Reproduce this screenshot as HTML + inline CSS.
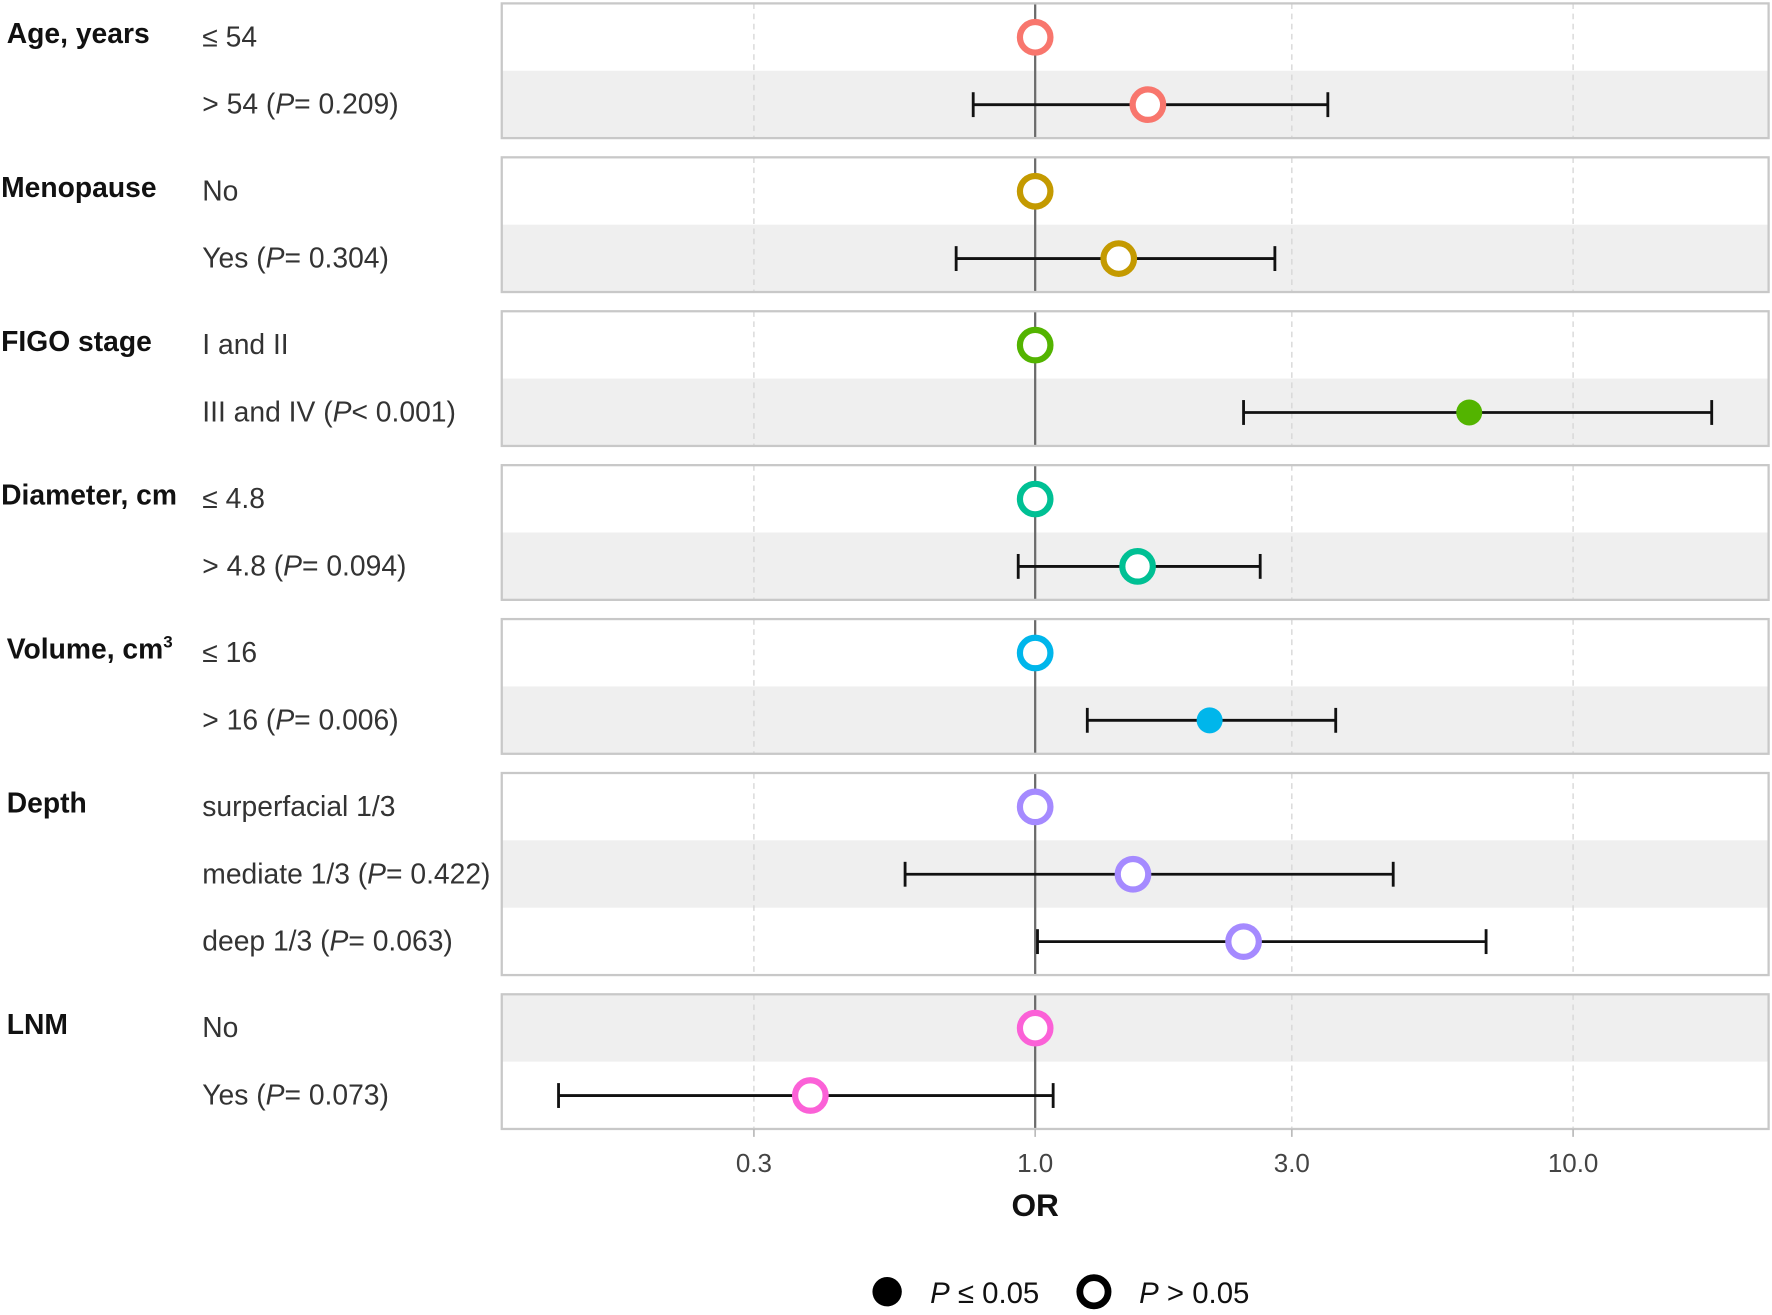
<!DOCTYPE html>
<html><head><meta charset="utf-8"><style>
html,body{margin:0;padding:0;background:#fff;}
svg{display:block;font-family:"Liberation Sans",Arial,sans-serif;}
</style></head><body>
<svg id="chart" width="1772" height="1315" viewBox="0 0 1568 1163.6" xmlns="http://www.w3.org/2000/svg"></svg>
<script>
const groups = ["Age, years","Menopause","FIGO stage","Diameter, cm","Volume, cm³","Depth","LNM"];
const groupColors = ["#F8766D","#C49A00","#53B400","#00C094","#00B6EB","#A58AFF","#FB61D7"];
const levelLabels = [
  ["≤ 54","> 54 (|P|= 0.209)"],
  ["No","Yes (|P|= 0.304)"],
  ["I and II","III and IV (|P|< 0.001)"],
  ["≤ 4.8","> 4.8 (|P|= 0.094)"],
  ["≤ 16","> 16 (|P|= 0.006)"],
  ["surperfacial 1/3","mediate 1/3 (|P|= 0.422)","deep 1/3 (|P|= 0.063)"],
  ["No","Yes (|P|= 0.073)"]
];
const orValues = [[1,1.62],[1,1.43],[1,6.41],[1,1.55],[1,2.11],[1,1.52,2.44],[1,0.382]];
const ciLow = [[null,0.767],[null,0.713],[null,2.44],[null,0.93],[null,1.25],[null,0.573,1.01],[null,0.13]];
const ciHigh = [[null,3.5],[null,2.79],[null,18.1],[null,2.62],[null,3.62],[null,4.63,6.89],[null,1.08]];
const significant = [[false,false],[false,false],[false,true],[false,false],[false,true],[false,false,false],[false,false]];
const tickValues = [0.3,1.0,3.0,10.0];
const tickLabels = ["0.3","1.0","3.0","10.0"];

const NS="http://www.w3.org/2000/svg";
const svg=document.getElementById('chart');
function mk(tag,attrs,parent){const e=document.createElementNS(NS,tag);for(const k in attrs)e.setAttribute(k,attrs[k]);(parent||svg).appendChild(e);return e;}
const X0=444,X1=1565;
function xScale(v){return 916+476*Math.log10(v);}
const rowH=59.6,panelGap=17;
let y=3, globalRow=0;
const panels=[];
groups.forEach((g,gi)=>{
  const n=levelLabels[gi].length;
  panels.push({y0:y,y1:y+n*rowH,n});
  y+=n*rowH+panelGap;
});
panels.forEach((p,gi)=>{
  const pg=mk('g',{});
  
  
  mk('rect',{x:X0,y:p.y0,width:X1-X0,height:p.y1-p.y0,fill:'#fff'},pg);
  for(let r=0;r<p.n;r++){
    if(globalRow%2===1) mk('rect',{x:X0,y:p.y0+r*rowH,width:X1-X0,height:rowH,fill:'#efefef'},pg);
    globalRow++;
  }
  tickValues.forEach(t=>{ if(t!==1) mk('line',{x1:xScale(t),x2:xScale(t),y1:p.y0,y2:p.y1,stroke:'#d6d6d6','stroke-width':1.2,'stroke-dasharray':'5,4'},pg);});
  mk('line',{x1:xScale(1),x2:xScale(1),y1:p.y0,y2:p.y1,stroke:'#6b6b6b','stroke-width':2},pg);
  mk('rect',{x:X0,y:p.y0,width:X1-X0,height:p.y1-p.y0,fill:'none',stroke:'#c8c8c8','stroke-width':2},pg);
  const gl=mk('text',{x:gi===1||gi===2||gi===3?1:6,y:p.y0+35,'font-size':25,'font-weight':'bold',fill:'#111'});
  
  
  if(gi===4){gl.textContent='Volume, cm';const s=mk('tspan',{'font-size':15,dy:-10},gl);s.textContent='3';}
  else gl.textContent=groups[gi];
  for(let r=0;r<p.n;r++){
    const cy=p.y0+30+r*rowH;
    const t=mk('text',{x:179,y:cy+8,'font-size':25,fill:'#333'});
    
    
    levelLabels[gi][r].split('|').forEach((part,i)=>{const s=mk('tspan',i===1?{'font-style':'italic'}:{},t);s.textContent=part;});
    if(ciLow[gi][r]!==null){
      const eg=mk('g',{stroke:'#111','stroke-width':2.5});
      
      
      const a=xScale(ciLow[gi][r]),b=xScale(ciHigh[gi][r]);
      mk('line',{x1:a,x2:b,y1:cy,y2:cy},eg);
      mk('line',{x1:a,x2:a,y1:cy-11,y2:cy+11},eg);
      mk('line',{x1:b,x2:b,y1:cy-11,y2:cy+11},eg);
    }
    const sig=significant[gi][r];
    const c=mk('circle',{cx:xScale(orValues[gi][r]),cy:cy,r:sig?11.5:13.5,fill:sig?groupColors[gi]:'#fff',stroke:groupColors[gi],'stroke-width':sig?0:5.5});
    
    
  }
});
const ax=mk('g',{});


const last=panels[panels.length-1];
tickValues.forEach((t,i)=>{
  mk('line',{x1:xScale(t),x2:xScale(t),y1:last.y1,y2:last.y1+7,stroke:'#bbb','stroke-width':1.5},ax);
  const tl=mk('text',{x:xScale(t),y:last.y1+38,'font-size':23,fill:'#444','text-anchor':'middle'},ax);
  
  
  tl.textContent=tickLabels[i];
});
const xt=mk('text',{x:916,y:1076,'font-size':28,'font-weight':'bold',fill:'#111','text-anchor':'middle'});


xt.textContent='OR';
const lg=mk('g',{});


mk('circle',{cx:785,cy:1143,r:13,fill:'#000'},lg);
const l1=mk('text',{x:823,y:1153,'font-size':26,fill:'#111'},lg);


l1.innerHTML='<tspan font-style="italic">P</tspan> ≤ 0.05';
mk('circle',{cx:968,cy:1143,r:12.5,fill:'#fff',stroke:'#000','stroke-width':6},lg);
const l2=mk('text',{x:1008,y:1153,'font-size':26,fill:'#111'},lg);


l2.innerHTML='<tspan font-style="italic">P</tspan> &gt; 0.05';
</script>
</body></html>
